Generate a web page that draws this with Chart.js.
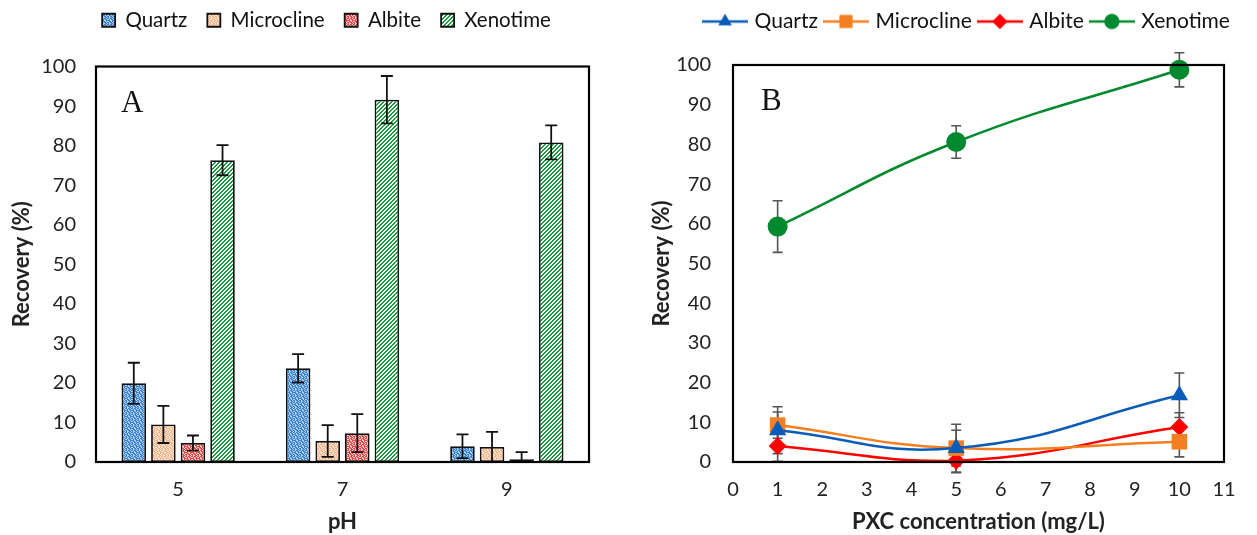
<!DOCTYPE html>
<html>
<head>
<meta charset="utf-8">
<style>
  html, body { margin: 0; padding: 0; background: #fff; }
  #wrap { position: relative; width: 1257px; height: 535px; overflow: hidden; }
  .panel { position: absolute; top: 0; height: 535px; }
  #panelA { left: 0; width: 640px; }
  #panelB { left: 640px; width: 617px; }
</style>
</head>
<body>
<div id="wrap">
  <div class="panel" id="panelA"><canvas id="chartA"></canvas></div>
  <div class="panel" id="panelB"><canvas id="chartB"></canvas></div>
</div>
<script src="https://cdn.jsdelivr.net/npm/chart.js@4.4.0/dist/chart.umd.min.js"></script>
<script>
// ---- data: panel A (recovery vs pH) ----
const phLabels = ['5', '7', '9'];
const quartzPh = [19.9, 23.7, 4.0];
const quartzPhErr = [5.2, 3.6, 3.0];
const microclinePh = [9.5, 5.3, 3.8];
const microclinePhErr = [4.7, 4.0, 3.8];
const albitePh = [4.8, 7.3, 0.7];
const albitePhErr = [1.9, 4.8, 1.8];
const xenotimePh = [76.3, 91.6, 80.8];
const xenotimePhErr = [3.8, 6.0, 4.3];

// ---- data: panel B (recovery vs PXC concentration) ----
const pxcConc = [1, 5, 10];
const quartzPxc = [8.0, 3.5, 16.8];
const quartzPxcErr = [5.9, 6.0, 5.6];
const microclinePxc = [9.3, 3.5, 5.1];
const microclinePxcErr = [3.3, 4.5, 3.8];
const albitePxc = [4.0, 0.3, 8.8];
const albitePxcErr = [3.8, 3.0, 3.6];
const xenotimePxc = [59.3, 80.6, 98.8];
const xenotimePxcErr = [6.5, 4.1, 4.3];

const yTicksMax = 100;
const yTickStep = 10;

Chart.defaults.font.family = 'Lato, "Open Sans", sans-serif';
Chart.defaults.color = '#222';
Chart.defaults.animation = false;

// small fill textures like the excel pattern fills
function texture(rows, on, off) {
    const c = document.createElement('canvas');
    c.width = rows[0].length;
    c.height = rows.length;
    const g = c.getContext('2d');
    for (let y = 0; y < rows.length; y++) {
        for (let x = 0; x < rows[y].length; x++) {
            g.fillStyle = rows[y][x] === '1' ? on : off;
            g.fillRect(x, y, 1, 1);
        }
    }
    return g.createPattern(c, 'repeat');
}
const speckle = ['101101', '010110', '110011', '011010', '101101', '100110'];
const stripes = ['1100', '1001', '0011', '0110'];
const quartzFill = texture(speckle, '#3a82d2', '#b4d0f0');
const microclineFill = texture(speckle, '#f5b68c', '#fde9dc');
const albiteFill = texture(speckle, '#ef4545', '#fbd2d2');
const xenotimeFill = texture(stripes, '#1a9a3c', '#ffffff');

// legend swatch: short line with the marker in the middle
function lineSwatch(color, style, r) {
    const c = document.createElement('canvas');
    c.width = 46;
    c.height = 22;
    const g = c.getContext('2d');
    g.strokeStyle = color;
    g.lineWidth = 2.5;
    g.beginPath();
    g.moveTo(0, 11);
    g.lineTo(46, 11);
    g.stroke();
    g.fillStyle = color;
    Chart.helpers.drawPoint(g, { pointStyle: style, radius: r, borderWidth: 0 }, 23, 11);
    g.fill();
    return c;
}

const frameBox = {
    id: 'frameBox',
    afterDraw(chart) {
        const a = chart.chartArea;
        const ctx = chart.ctx;
        ctx.save();
        ctx.strokeStyle = '#000';
        ctx.lineWidth = 2.2;
        ctx.strokeRect(a.left, a.top, a.right - a.left, a.bottom - a.top);
        ctx.restore();
    }
};

const panelLetter = {
    id: 'panelLetter',
    afterDraw(chart, args, opts) {
        const a = chart.chartArea;
        const ctx = chart.ctx;
        ctx.save();
        ctx.font = '31px "Liberation Serif", "DejaVu Serif", serif';
        ctx.fillStyle = '#111';
        ctx.textBaseline = 'middle';
        ctx.fillText(opts.text, a.left + opts.dx, a.top + opts.dy);
        ctx.restore();
    }
};

const legendShift = {
    id: 'legendShift',
    afterLayout(chart, args, opts) {
        chart.legend.left += opts.dx;
        chart.legend.right += opts.dx;
        chart.legend.top += opts.dy;
        chart.legend.bottom += opts.dy;
    }
};

function drawErrors(chart, opts) {
    const ctx = chart.ctx;
    const ys = chart.scales.y;
    ctx.save();
    if (opts.clip) {
        const a = chart.chartArea;
        ctx.beginPath();
        ctx.rect(a.left, a.top - 40, a.right - a.left, a.bottom - a.top + 40);
        ctx.clip();
    }
    ctx.strokeStyle = opts.color;
    ctx.lineWidth = opts.width;
    chart.data.datasets.forEach((ds, i) => {
        const meta = chart.getDatasetMeta(i);
        meta.data.forEach((el, j) => {
            const v = typeof ds.data[j] === 'object' ? ds.data[j].y : ds.data[j];
            const e = ds.errors[j];
            const top = ys.getPixelForValue(v + e);
            const bot = ys.getPixelForValue(v - e);
            const x = el.x;
            ctx.beginPath();
            ctx.moveTo(x, top); ctx.lineTo(x, bot);
            ctx.moveTo(x - opts.cap, top); ctx.lineTo(x + opts.cap, top);
            ctx.moveTo(x - opts.cap, bot); ctx.lineTo(x + opts.cap, bot);
            ctx.stroke();
        });
    });
    ctx.restore();
}

const errorBarsOver = {
    id: 'errorBarsOver',
    afterDatasetsDraw(chart, args, opts) { drawErrors(chart, opts); }
};
const errorBarsUnder = {
    id: 'errorBarsUnder',
    beforeDatasetsDraw(chart, args, opts) { drawErrors(chart, opts); }
};

const tickFont = { size: 20 };
const titleFont = { size: 22, weight: 'bold' };

// ---- panel A: bars ----
new Chart(document.getElementById('chartA'), {
    type: 'bar',
    data: {
        labels: phLabels,
        datasets: [
            { label: 'Quartz', data: quartzPh, errors: quartzPhErr, backgroundColor: quartzFill },
            { label: 'Microcline', data: microclinePh, errors: microclinePhErr, backgroundColor: microclineFill },
            { label: 'Albite', data: albitePh, errors: albitePhErr, backgroundColor: albiteFill },
            { label: 'Xenotime', data: xenotimePh, errors: xenotimePhErr, backgroundColor: xenotimeFill }
        ].map(d => Object.assign(d, {
            borderColor: '#111', borderWidth: 1.8, borderSkipped: false,
            categoryPercentage: 0.72, barPercentage: 0.83
        }))
    },
    options: {
        responsive: true,
        maintainAspectRatio: false,
        layout: { padding: { top: 16, right: 51, left: 0, bottom: 0 } },
        scales: {
            x: {
                grid: { display: false },
                border: { display: false },
                ticks: { font: tickFont, padding: 8 },
                title: { display: true, text: 'pH', font: titleFont, padding: { top: 8, bottom: 0 } },
                afterFit(s) { s.height = 73; }
            },
            y: {
                min: 0, max: yTicksMax,
                grid: { display: false },
                border: { display: false },
                ticks: { font: tickFont, stepSize: yTickStep, padding: 12 },
                title: { display: true, text: 'Recovery (%)', font: titleFont, padding: { top: 9, bottom: 0 } },
                afterFit(s) { s.width = 96; }
            }
        },
        plugins: {
            legend: {
                labels: { font: { size: 20.5 }, boxWidth: 13, boxHeight: 13, padding: 20, color: '#111' }
            },
            tooltip: { enabled: false },
            legendShift: { dx: 32, dy: -26 },
            panelLetter: { text: 'A', dx: 25, dy: 37 },
            errorBarsOver: { color: '#111', width: 1.8, cap: 6, clip: true }
        }
    },
    plugins: [legendShift, frameBox, panelLetter, errorBarsOver]
});

// ---- panel B: lines ----
const lineSets = [
    { label: 'Quartz', ys: quartzPxc, err: quartzPxcErr, color: '#0b5cb8', style: 'triangle', r: 10 },
    { label: 'Microcline', ys: microclinePxc, err: microclinePxcErr, color: '#f47f20', style: 'rect', r: 11 },
    { label: 'Albite', ys: albitePxc, err: albitePxcErr, color: '#ff0000', style: 'rectRot', r: 9 },
    { label: 'Xenotime', ys: xenotimePxc, err: xenotimePxcErr, color: '#00892e', style: 'circle', r: 10 }
];
const swatches = lineSets.map(s => lineSwatch(s.color, s.style, s.style === 'rect' ? 9 : 7.5));

new Chart(document.getElementById('chartB'), {
    type: 'line',
    data: {
        datasets: lineSets.map(s => ({
            label: s.label,
            data: pxcConc.map((x, i) => ({ x: x, y: s.ys[i] })),
            errors: s.err,
            borderColor: s.color,
            backgroundColor: s.color,
            borderWidth: 2.5,
            tension: 0.45,
            pointStyle: s.style,
            pointRadius: s.r,
            pointBorderWidth: 0,
            clip: false
        }))
    },
    options: {
        responsive: true,
        maintainAspectRatio: false,
        layout: { padding: { top: 25, right: 33, left: 0, bottom: 0 } },
        scales: {
            x: {
                type: 'linear', min: 0, max: 11,
                grid: { display: false },
                border: { display: false },
                ticks: { font: tickFont, stepSize: 1, padding: 8 },
                title: { display: true, text: 'PXC concentration (mg/L)', font: titleFont, padding: { top: 8, bottom: 0 } },
                afterFit(s) { s.height = 73; }
            },
            y: {
                min: 0, max: yTicksMax,
                grid: { display: false },
                border: { display: false },
                ticks: { font: tickFont, stepSize: yTickStep, padding: 14 },
                title: { display: true, text: 'Recovery (%)', font: titleFont, padding: { top: 9, bottom: 0 } },
                afterFit(s) { s.width = 93; }
            }
        },
        plugins: {
            legend: {
                labels: {
                    font: { size: 21 }, usePointStyle: true, pointStyleWidth: 38, padding: 9, color: '#111',
                    generateLabels(chart) {
                        const items = Chart.defaults.plugins.legend.labels.generateLabels(chart);
                        items.forEach((it, i) => { it.pointStyle = swatches[i]; });
                        return items;
                    }
                }
            },
            tooltip: { enabled: false },
            legendShift: { dx: 36, dy: -23 },
            panelLetter: { text: 'B', dx: 28, dy: 37 },
            errorBarsUnder: { color: '#555', width: 1.6, cap: 5, clip: false }
        }
    },
    plugins: [legendShift, frameBox, panelLetter, errorBarsUnder]
});
</script>
</body>
</html>
